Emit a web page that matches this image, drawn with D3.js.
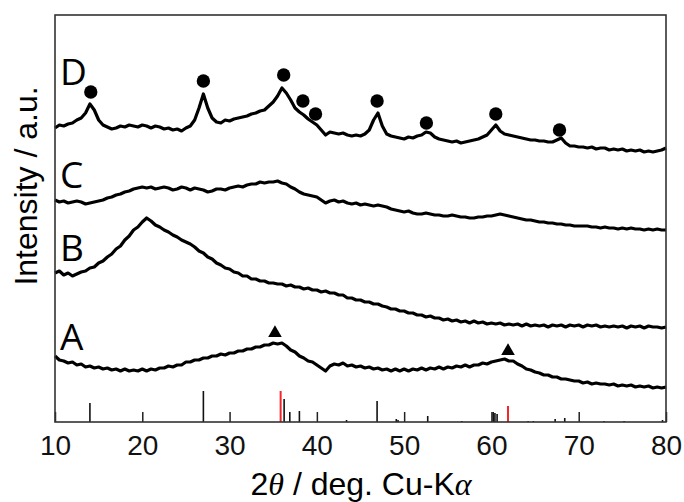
<!DOCTYPE html>
<html>
<head>
<meta charset="utf-8">
<script src="https://cdn.jsdelivr.net/npm/d3@7"></script>
<style>
  body { margin: 0; background: #fff; }
  svg { display: block; }
</style>
</head>
<body>
<div id="chart"></div>
<script>
"use strict";

// 2theta grid of the scans (deg), one point every 0.5 deg
const angleStart = 10;
const angleStep = 0.5;

// intensities (a.u., offset already applied)
const traceA = [
  66, 62, 61, 59, 60, 57, 58, 55, 56, 54,
  55, 53, 54, 52, 53, 51, 53, 51, 52, 51,
  53, 51, 53, 52, 54, 54, 56, 55, 57, 57,
  60, 60, 62, 62, 64, 64, 66, 66, 68, 67,
  69, 69, 71, 71, 73, 73, 75, 75, 77, 77,
  79, 78, 79, 76, 72, 70, 66, 64, 61, 60,
  57, 54, 51, 56, 58, 57, 59, 56, 57, 55,
  56, 54, 55, 53, 54, 52, 53, 51, 53, 51,
  53, 51, 53, 52, 54, 52, 54, 53, 55, 53,
  55, 54, 56, 55, 57, 55, 57, 57, 59, 58,
  60, 61, 62, 63, 61, 61, 58, 56, 53, 52,
  50, 49, 47, 47, 45, 45, 43, 43, 42, 41,
  41, 39, 40, 38, 39, 38, 38, 37, 38, 36,
  37, 36, 37, 35, 36, 35, 36, 34, 35, 34,
  35
];
const traceB = [
  149, 151, 147, 149, 146, 148, 150, 151, 154, 155,
  159, 161, 165, 168, 173, 176, 182, 186, 192, 195,
  200, 204, 201, 197, 195, 192, 190, 187, 185, 182,
  180, 178, 175, 171, 169, 165, 163, 159, 157, 154,
  153, 150, 149, 146, 146, 143, 143, 141, 141, 139,
  139, 138, 138, 136, 137, 135, 135, 133, 134, 132,
  132, 130, 131, 129, 129, 127, 127, 124, 124, 122,
  122, 120, 120, 118, 118, 116, 115, 113, 113, 111,
  111, 109, 109, 107, 107, 105, 106, 104, 104, 102,
  103, 101, 102, 100, 101, 99, 101, 99, 100, 98,
  99, 98, 99, 97, 98, 97, 98, 96, 98, 96,
  97, 96, 97, 95, 97, 96, 97, 95, 97, 96,
  97, 95, 97, 96, 97, 95, 96, 95, 96, 95,
  96, 94, 96, 95, 96, 94, 96, 95, 95, 94,
  95
];
const traceC = [
  222, 220, 221, 219, 220, 221, 220, 218, 219, 220,
  221, 222, 224, 225, 227, 228, 230, 231, 233, 234,
  235, 234, 235, 233, 234, 235, 234, 232, 233, 235,
  234, 232, 234, 233, 232, 230, 231, 233, 233, 232,
  234, 235, 236, 235, 237, 238, 238, 240, 239, 240,
  240, 241, 239, 238, 235, 233, 230, 228, 227, 226,
  225, 222, 219, 221, 222, 220, 221, 219, 218, 219,
  217, 218, 217, 216, 217, 216, 215, 213, 212, 211,
  210, 211, 209, 208, 208, 209, 208, 207, 207, 206,
  206, 207, 206, 205, 205, 204, 204, 205, 205, 206,
  206, 207, 208, 207, 206, 205, 204, 203, 202, 202,
  201, 200, 200, 199, 199, 198, 198, 197, 197, 196,
  196, 196, 196, 195, 195, 194, 195, 194, 194, 193,
  194, 193, 194, 193, 193, 192, 193, 192, 193, 192,
  192
];
const traceD = [
  294, 297, 296, 298, 299, 302, 304, 309, 318, 312,
  302, 297, 295, 293, 294, 296, 295, 297, 296, 295,
  297, 296, 294, 296, 295, 293, 294, 292, 293, 291,
  294, 296, 302, 314, 328, 314, 304, 300, 299, 302,
  301, 303, 304, 305, 306, 308, 309, 311, 312, 316,
  320, 326, 334, 329, 322, 314, 310, 307, 303, 300,
  297, 292, 287, 290, 289, 288, 289, 287, 286, 287,
  286, 288, 292, 302, 309, 296, 288, 286, 285, 284,
  283, 285, 284, 286, 287, 290, 289, 285, 283, 282,
  281, 280, 281, 279, 280, 281, 282, 283, 285, 287,
  292, 297, 291, 288, 287, 286, 285, 284, 283, 282,
  282, 281, 281, 280, 280, 282, 284, 279, 276, 276,
  275, 275, 274, 275, 273, 274, 274, 272, 273, 272,
  273, 271, 272, 271, 272, 270, 271, 270, 271, 272,
  274
];
const traceNames = ["A", "B", "C", "D"];
const labelLevels = [72, 161, 234, 337];

// reference pattern sticks (black and red)
const refBlackPos = [14.0, 27.0, 36.25, 36.9, 38.0, 43.4, 46.9, 49.1, 49.3, 52.7, 56.6, 60.2, 60.4, 60.65, 64.2, 64.8, 67.3, 68.4, 72.9, 75.2, 79.6];
const refBlackInt = [19, 31, 23, 10, 11, 2, 21, 3, 2, 6, 1, 10, 9, 8, 1, 1, 3, 4, 1, 1, 2];
const refRedPos = [35.85, 61.9];
const refRedInt = [31, 16];

// peak markers
const circlePos = [14.1, 27.0, 36.2, 38.4, 39.85, 46.9, 52.55, 60.5, 67.8];
const circleInt = [330, 341, 347, 321, 308, 321, 299, 308, 292];
const trianglePos = [35.2, 61.9];
const triangleInt = [89, 71];

const xTicks = [10, 20, 30, 40, 50, 60, 70, 80];

const width = 684;
const height = 502;
const margin = {left: 55, right: 18, top: 15, bottom: 80};

const svg = d3.select("#chart")
    .append("svg")
    .attr("width", width)
    .attr("height", height)
    .attr("viewBox", [0, 0, width, height]);

svg.append("rect")
    .attr("width", width)
    .attr("height", height)
    .style("fill", "#ffffff");

const x = d3.scaleLinear()
    .domain([10, 80])
    .range([margin.left, width - margin.right]);

const y = d3.scaleLinear()
    .domain([0, 407])
    .range([height - margin.bottom, margin.top]);

const traces = [traceA, traceB, traceC, traceD];

const line = d3.line()
    .x(function(d, i) { return x(angleStart + i * angleStep); })
    .y(function(d) { return y(d); });

svg.selectAll(".trace")
    .data(traces)
    .enter()
    .append("path")
    .attr("class", "trace")
    .attr("d", line)
    .style("fill", "none")
    .style("stroke", "#000")
    .style("stroke-width", 3.2)
    .style("stroke-linejoin", "round");

// sticks
const sticks = refBlackPos.map(function(p, i) { return {pos: p, val: refBlackInt[i], color: "#111"}; })
    .concat(refRedPos.map(function(p, i) { return {pos: p, val: refRedInt[i], color: "#f2262b"}; }));

svg.selectAll(".stick")
    .data(sticks)
    .enter()
    .append("line")
    .attr("class", "stick")
    .attr("x1", function(d) { return x(d.pos); })
    .attr("x2", function(d) { return x(d.pos); })
    .attr("y1", y(0))
    .attr("y2", function(d) { return y(d.val); })
    .style("stroke", function(d) { return d.color; })
    .style("stroke-width", function(d) { return d.color === "#111" ? 1.6 : 2; });

// axis with inward ticks
const xAxis = d3.axisBottom(x)
    .tickValues(xTicks)
    .tickSizeInner(-10)
    .tickSizeOuter(0)
    .tickPadding(13);

const gx = svg.append("g")
    .attr("transform", `translate(0,${y(0)})`)
    .call(xAxis);

gx.select(".domain").remove();
gx.selectAll(".tick line")
    .style("stroke", "#222")
    .style("stroke-width", 1.5);
gx.selectAll(".tick text")
    .style("font-family", "'Liberation Sans', Arial, sans-serif")
    .style("font-size", "28px")
    .style("fill", "#111");

// frame
svg.append("rect")
    .attr("x", x(10))
    .attr("y", y(407))
    .attr("width", x(80) - x(10))
    .attr("height", y(0) - y(407))
    .style("fill", "none")
    .style("stroke", "#333")
    .style("stroke-width", 1.6);

// markers
const circleSym = d3.symbol().type(d3.symbolCircle).size(140);
svg.selectAll(".circle-mark")
    .data(circlePos)
    .enter()
    .append("path")
    .attr("class", "circle-mark")
    .attr("d", circleSym)
    .attr("transform", function(d, i) { return `translate(${x(d)},${y(circleInt[i])})`; })
    .style("fill", "#000");

const triSym = d3.symbol().type(d3.symbolTriangle).size(80);
svg.selectAll(".tri-mark")
    .data(trianglePos)
    .enter()
    .append("path")
    .attr("class", "tri-mark")
    .attr("d", triSym)
    .attr("transform", function(d, i) { return `translate(${x(d)},${y(triangleInt[i])})`; })
    .style("fill", "#000");

// trace labels
svg.selectAll(".trace-label")
    .data(traceNames)
    .enter()
    .append("text")
    .attr("class", "trace-label")
    .attr("x", x(10) + 5)
    .attr("y", function(d, i) { return y(labelLevels[i]); })
    .text(function(d) { return d; })
    .style("font-family", "'Open Sans', sans-serif")
    .style("font-size", "37px")
    .style("fill", "#000");

// axis titles
const xTitle = svg.append("text")
    .attr("x", 361)
    .attr("y", 495)
    .attr("text-anchor", "middle")
    .style("font-family", "'Liberation Sans', Arial, sans-serif")
    .style("font-size", "32px")
    .style("fill", "#000");
xTitle.append("tspan").text("2");
xTitle.append("tspan")
    .style("font-family", "'Liberation Serif', serif")
    .style("font-style", "italic")
    .text("θ");
xTitle.append("tspan").text(" / deg. Cu-K");
xTitle.append("tspan")
    .style("font-family", "'Liberation Serif', serif")
    .style("font-style", "italic")
    .text("α");

svg.append("text")
    .attr("transform", "translate(37,186) rotate(-90)")
    .attr("text-anchor", "middle")
    .style("font-family", "'Liberation Sans', Arial, sans-serif")
    .style("font-size", "32px")
    .style("fill", "#000")
    .text("Intensity / a.u.");
</script>
</body>
</html>
